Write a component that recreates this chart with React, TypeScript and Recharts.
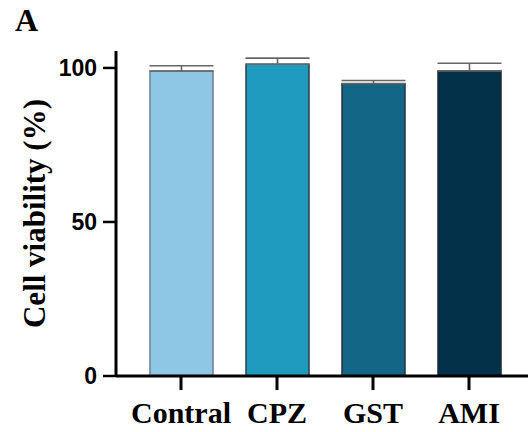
import React from 'react'
import { BarChart, Bar, XAxis, YAxis, ErrorBar, Cell } from 'recharts'

const groups = ['Contral', 'CPZ', 'GST', 'AMI']
const viability = [99.0, 101.2, 94.9, 99.0]
const sem = [1.7, 2.0, 1.0, 2.5]
const yTicks = [0, 50, 100]

const fills = ['#8ec6e6', '#1f9bbf', '#136686', '#033149']
const strokes = ['#6f7f8a', '#2e3d48', '#26323c', '#1c2830']

const data = groups.map((g, i) => ({ group: g, value: viability[i], err: [0, sem[i]] }))

const serif = '"Liberation Serif", "Times New Roman", serif'
const sans = '"Liberation Sans", Arial, sans-serif'

function XTick(props: any) {
  const { x, payload } = props
  return (
    <text x={x} y={423} textAnchor="middle" fontFamily={serif} fontWeight="bold" fontSize={30} fill="#000">
      {payload.value}
    </text>
  )
}

function YLabel(props: any) {
  const vb = props.viewBox || { x: 0, y: 0, height: 0 }
  const cx = 34
  const cy = vb.y + vb.height / 2
  return (
    <text
      x={cx}
      y={cy}
      transform={`rotate(-90, ${cx}, ${cy})`}
      textAnchor="middle"
      dominantBaseline="central"
      fontFamily={serif}
      fontWeight="bold"
      fontSize={31}
      fill="#000"
    >
      Cell viability (%)
    </text>
  )
}

export default function App() {
  return (
    <div style={{ position: 'absolute', left: 0, top: 0, width: 528, height: 432, background: '#fff' }}>
      <div
        style={{
          position: 'absolute',
          left: 15,
          top: 0,
          fontFamily: serif,
          fontWeight: 'bold',
          fontSize: 32,
          lineHeight: '40px',
        }}
      >
        A
      </div>
      <BarChart width={528} height={432} data={data} margin={{ top: 51, right: 0, left: 0, bottom: 0 }} barSize={63}>
        <XAxis
          dataKey="group"
          height={56}
          padding={{ left: 17, right: 11 }}
          axisLine={{ stroke: '#000', strokeWidth: 3 }}
          tickLine={{ stroke: '#000', strokeWidth: 3 }}
          tickSize={14}
          tick={<XTick />}
          interval={0}
        />
        <YAxis
          width={116}
          domain={[0, 105.5]}
          ticks={yTicks}
          allowDataOverflow
          axisLine={{ stroke: '#000', strokeWidth: 3 }}
          tickLine={{ stroke: '#000', strokeWidth: 2.5 }}
          tickSize={13}
          tickMargin={6}
          tick={{ fontFamily: sans, fontWeight: 'bold', fontSize: 23, fill: '#000' }}
          label={<YLabel />}
        />
        <Bar dataKey="value" isAnimationActive={false} strokeWidth={1.5}>
          {data.map((d, i) => (
            <Cell key={d.group} fill={fills[i]} stroke={strokes[i]} />
          ))}
          <ErrorBar dataKey="err" width={32} stroke="#666" strokeWidth={1.6} direction="y" />
        </Bar>
      </BarChart>
    </div>
  )
}
